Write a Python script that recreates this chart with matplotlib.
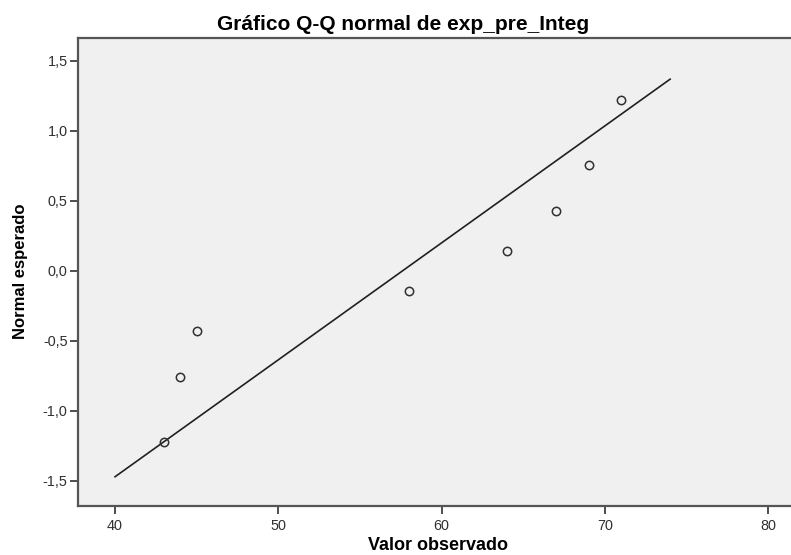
import matplotlib
matplotlib.use("Agg")
import matplotlib.pyplot as plt
from matplotlib.ticker import FuncFormatter

plt.rcParams['font.family'] = ['Liberation Sans', 'DejaVu Sans']

# Data
observed = [43, 44, 45, 58, 64, 67, 69, 71]
expected = [-1.22, -0.76, -0.43, -0.14, 0.14, 0.43, 0.76, 1.22]
line_x = [40, 74]
line_y = [-1.47, 1.37]
x_ticks = [40, 50, 60, 70, 80]
y_ticks = [-1.5, -1.0, -0.5, 0.0, 0.5, 1.0, 1.5]

title = "Gráfico Q-Q normal de exp_pre_Integ"
xlabel = "Valor observado"
ylabel = "Normal esperado"

W, H = 791, 555
fig = plt.figure(figsize=(W / 100, H / 100), dpi=100)
fig.patch.set_facecolor('white')
ax = fig.add_axes([78 / W, 1 - 506 / H, (W - 78) / W + 0.002, (506 - 38) / H])
ax.set_facecolor('#F0F0F0')

ax.plot(line_x, line_y, color='#202020', lw=1.2, zorder=2)
ax.plot(observed, expected, linestyle='none', marker='o', markersize=6,
        markerfacecolor='none', markeredgecolor='#303030', markeredgewidth=1.1, zorder=3)

ax.set_xlim(37.73, 81.5)
ax.set_ylim(-1.679, 1.664)
ax.set_xticks(x_ticks)
ax.set_yticks(y_ticks)
ax.xaxis.set_major_formatter(FuncFormatter(lambda v, p: f"{v:.0f}"))
ax.yaxis.set_major_formatter(FuncFormatter(lambda v, p: f"{v:.1f}".replace('.', ',')))

for side in ['top', 'left', 'bottom']:
    ax.spines[side].set_color('#555555')
    ax.spines[side].set_linewidth(1.6)
ax.spines['right'].set_visible(False)

ax.tick_params(axis='both', direction='out', length=6, width=1.2, color='#303030',
               labelsize=10.4, labelcolor='#303030')
ax.tick_params(axis='y', pad=1.5)
ax.tick_params(axis='x', pad=3)

fig.text(403 / W, 1 - 30 / H, title, ha='center', va='baseline',
         fontsize=15, fontweight='bold', color='black')
fig.text(438 / W, 1 - 550 / H, xlabel, ha='center', va='baseline',
         fontsize=13, fontweight='bold', color='black')
fig.text(21 / W, 1 - 271 / H, ylabel, ha='center', va='center', rotation=90,
         fontsize=12, fontweight='bold', color='black')

fig.savefig('out.png', dpi=100)
